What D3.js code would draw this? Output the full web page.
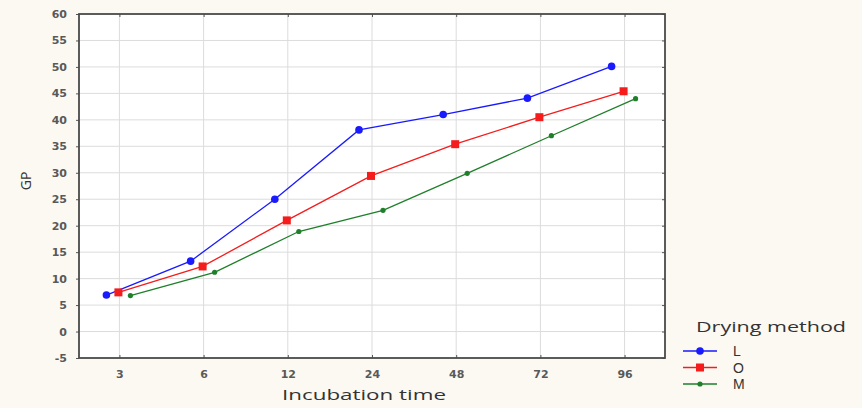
<!DOCTYPE html>
<html>
<head>
<meta charset="utf-8">
<script src="https://cdnjs.cloudflare.com/ajax/libs/d3/7.8.5/d3.min.js"></script>
<style>
  body {
    margin: 0;
    background: #fcf9f2;
  }
  svg {
    display: block;
  }
  .tick-label {
    font-family: 'DejaVu Sans', sans-serif;
    font-size: 11px;
    font-weight: bold;
    fill: #595959;
  }
  .title {
    font-family: 'Open Sans', sans-serif;
    font-size: 14px;
    fill: #333;
  }
  .legend-label {
    font-family: 'Liberation Sans', sans-serif;
    font-size: 14px;
    fill: #333;
  }
</style>
</head>
<body>
<svg id="chart" width="862" height="408"></svg>
<script>

// data
const times = ["3", "6", "12", "24", "48", "72", "96"];
const methods = ["L", "O", "M"];
const valuesL = [6.9, 13.3, 25.0, 38.1, 41.0, 44.1, 50.1];
const valuesO = [7.4, 12.3, 21.0, 29.4, 35.4, 40.5, 45.4];
const valuesM = [6.8, 11.2, 18.9, 22.9, 29.9, 37.0, 44.0];
const yTicks = [-5, 0, 5, 10, 15, 20, 25, 30, 35, 40, 45, 50, 55, 60];

const colors = { L: "#1a1aff", O: "#f51c1c", M: "#1f7f2a" };
const seriesValues = { L: valuesL, O: valuesO, M: valuesM };

const svg = d3.select("#chart");

const plot = { left: 79, right: 665, top: 14, bottom: 358 };

const x = d3.scalePoint()
  .domain(times)
  .range([plot.left, plot.right])
  .padding(0.48);

// small side-by-side shift of the three series
const shift = d3.scalePoint()
  .domain(methods)
  .range([-13, 11]);

const y = d3.scaleLinear()
  .domain([-5, 60])
  .range([plot.bottom, plot.top]);

// plot background
svg.append("rect")
  .attr("x", plot.left)
  .attr("y", plot.top)
  .attr("width", plot.right - plot.left)
  .attr("height", plot.bottom - plot.top)
  .attr("fill", "#ffffff");

// grid
const grid = svg.append("g");
grid.selectAll("line.h")
  .data(yTicks.filter(d => d > -5 && d < 60))
  .enter().append("line")
  .attr("x1", plot.left).attr("x2", plot.right)
  .attr("y1", d => y(d)).attr("y2", d => y(d))
  .attr("stroke", "#dcdcdc")
  .attr("stroke-width", 1);
grid.selectAll("line.v")
  .data(times)
  .enter().append("line")
  .attr("x1", d => x(d)).attr("x2", d => x(d))
  .attr("y1", plot.top).attr("y2", plot.bottom)
  .attr("stroke", "#dcdcdc")
  .attr("stroke-width", 1);

// left axis (plain hyphen for negatives, as in the original)
const yAxis = d3.axisLeft(y)
  .tickValues(yTicks)
  .tickSize(3)
  .tickPadding(9)
  .tickFormat(d => String(d));
const gy = svg.append("g")
  .attr("transform", `translate(${plot.left},0)`)
  .call(yAxis);
gy.select(".domain").remove();
gy.selectAll(".tick line").attr("stroke", "#555");
gy.selectAll(".tick text").attr("class", "tick-label").attr("font-size", null).attr("font-family", null);

// right side inner ticks
const gyr = svg.append("g")
  .attr("transform", `translate(${plot.right},0)`)
  .call(d3.axisLeft(y).tickValues(yTicks).tickSize(3).tickFormat(""));
gyr.select(".domain").remove();
gyr.selectAll(".tick line").attr("stroke", "#555");

// bottom axis
const xAxis = d3.axisBottom(x).tickSize(-3).tickPadding(12);
const gx = svg.append("g")
  .attr("transform", `translate(0,${plot.bottom})`)
  .call(xAxis);
gx.select(".domain").remove();
gx.selectAll(".tick line").attr("stroke", "#555");
gx.selectAll(".tick text").attr("class", "tick-label").attr("font-size", null).attr("font-family", null);

// top inner ticks
const gxt = svg.append("g")
  .attr("transform", `translate(0,${plot.top})`)
  .call(d3.axisBottom(x).tickSize(3).tickFormat(""));
gxt.select(".domain").remove();
gxt.selectAll(".tick line").attr("stroke", "#555");

// frame
svg.append("rect")
  .attr("x", plot.left)
  .attr("y", plot.top)
  .attr("width", plot.right - plot.left)
  .attr("height", plot.bottom - plot.top)
  .attr("fill", "none")
  .attr("stroke", "#4a4a4a")
  .attr("stroke-width", 1.8);

// series
const line = d3.line();

methods.forEach(m => {
  const pts = times.map((t, i) => [x(t) + shift(m), y(seriesValues[m][i])]);
  const g = svg.append("g");
  g.append("path")
    .attr("d", line(pts))
    .attr("fill", "none")
    .attr("stroke", colors[m])
    .attr("stroke-width", 1.3);
  addMarkers(g, pts, m);
});

function addMarkers(g, pts, m) {
  if (m === "O") {
    g.selectAll("rect")
      .data(pts)
      .enter().append("rect")
      .attr("x", d => d[0] - 4)
      .attr("y", d => d[1] - 4)
      .attr("width", 8)
      .attr("height", 8)
      .attr("fill", colors[m]);
  } else {
    g.selectAll("circle")
      .data(pts)
      .enter().append("circle")
      .attr("cx", d => d[0])
      .attr("cy", d => d[1])
      .attr("r", m === "L" ? 3.8 : 2.6)
      .attr("fill", colors[m]);
  }
}

// axis titles
svg.append("text")
  .attr("class", "title")
  .attr("x", 364)
  .attr("y", 400)
  .attr("text-anchor", "middle")
  .attr("textLength", 164)
  .attr("lengthAdjust", "spacingAndGlyphs")
  .text("Incubation time");

svg.append("text")
  .attr("class", "title")
  .attr("transform", "translate(31,181) rotate(-90)")
  .attr("text-anchor", "middle")
  .text("GP");

// legend
const legend = svg.append("g");
legend.append("text")
  .attr("class", "title")
  .attr("x", 696)
  .attr("y", 332)
  .attr("textLength", 150)
  .attr("lengthAdjust", "spacingAndGlyphs")
  .text("Drying method");

const ly = d3.scalePoint().domain(methods).range([351, 384]);

methods.forEach(m => {
  const yy = ly(m);
  legend.append("line")
    .attr("x1", 683).attr("x2", 717)
    .attr("y1", yy).attr("y2", yy)
    .attr("stroke", colors[m])
    .attr("stroke-width", 1.3);
  addMarkers(legend.append("g"), [[700, yy]], m);
  legend.append("text")
    .attr("class", "legend-label")
    .attr("x", 733)
    .attr("y", yy + 5)
    .text(m);
});

</script>
</body>
</html>
